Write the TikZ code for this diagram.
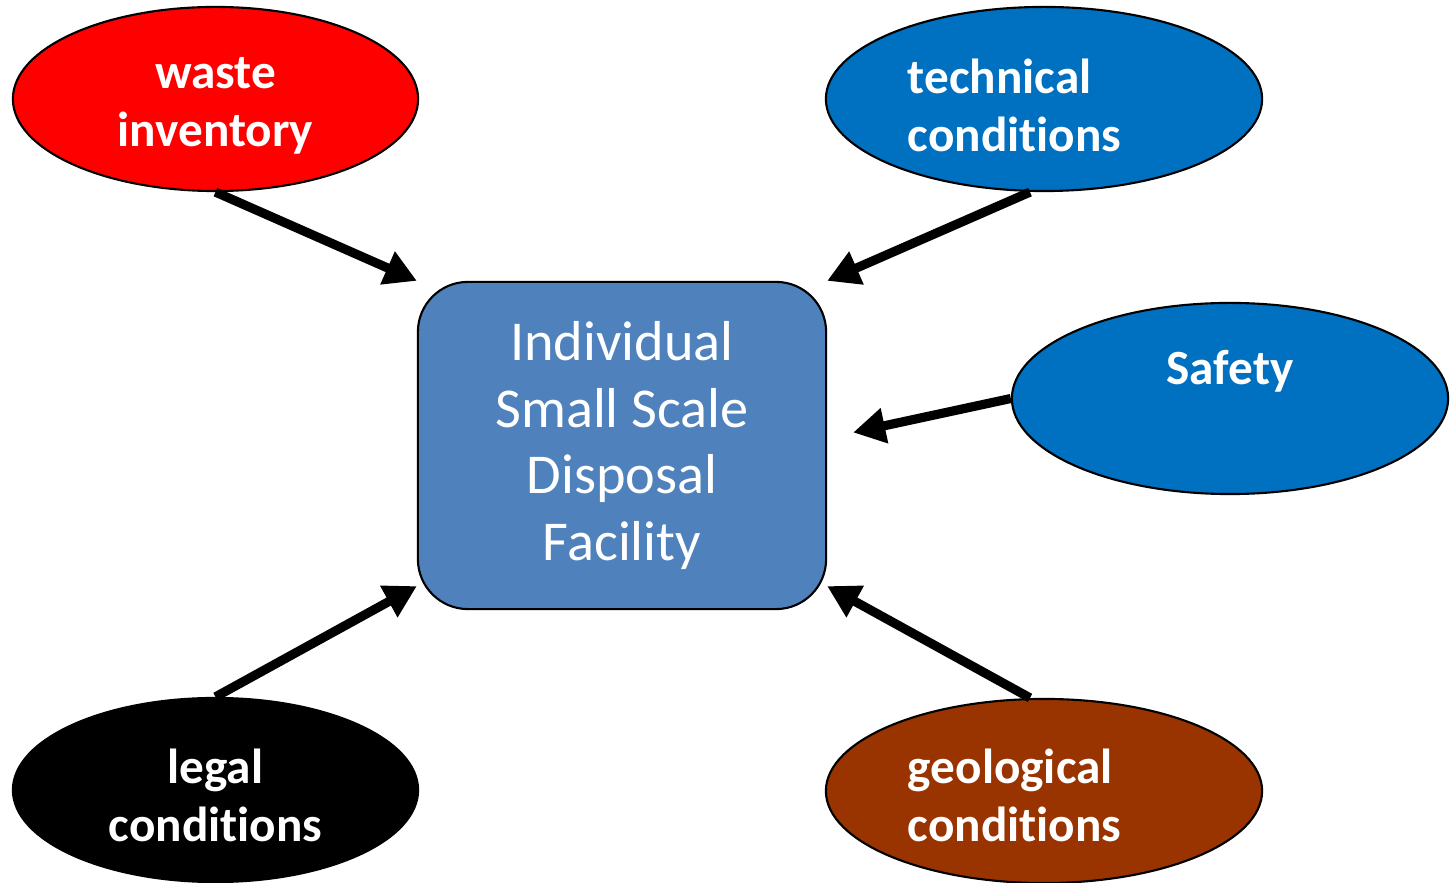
\documentclass[tikz,border=0pt]{standalone}
\usepackage{fontspec}
\setmainfont{Carlito}[Ligatures=NoCommon]
\usetikzlibrary{shapes.geometric,arrows.meta}

\definecolor{techblue}{HTML}{0070C0}
\definecolor{boxblue}{HTML}{4F81BD}
\definecolor{geobrown}{HTML}{993300}

% keeps the t and i apart
\newcommand{\cond}{condi\kern0pt tions}

\tikzset{
  oval/.style={ellipse, draw=black, line width=0.6pt, inner sep=0pt},
  ovaltext/.style={text=white, font=\fontsize{14}{16.5}\selectfont\bfseries},
  arr/.style={line width=2.6pt, -{Triangle[length=0.32cm,width=0.34cm]}}
}

\begin{document}
\begin{tikzpicture}[x=0.01cm,y=-0.01cm]
\useasboundingbox (0,0) rectangle (1455,883);

% the facility in the middle
\node[draw=black, fill=boxblue, rounded corners=0.5cm, line width=0.6pt,
  minimum width=4.08cm, minimum height=3.27cm, text=white, align=center,
  font=\fontsize{16}{19}\selectfont] (box) at (622,445.5)
  {Individual\\Small Scale\\Disposal\\Facility};

% the influences
\node[oval, fill=red, minimum width=4.05cm, minimum height=1.84cm,
  label={[ovaltext, align=center, yshift=-0.07cm]center:waste\\inventory}]
  (waste) at (215.5,99) {};
\node[oval, fill=techblue, minimum width=4.36cm, minimum height=1.84cm,
  label={[ovaltext, text width=2.72cm, align=left, yshift=-0.06cm]center:technical\\\cond}]
  (tech) at (1044,99) {};
\node[oval, fill=techblue, minimum width=4.36cm, minimum height=1.91cm,
  label={[ovaltext, yshift=0.27cm]center:Safety}]
  (safety) at (1230,398.5) {};
\node[oval, fill=black, minimum width=4.05cm, minimum height=1.84cm,
  label={[ovaltext, align=center, yshift=-0.05cm]center:legal\\\cond}]
  (legal) at (215.5,790) {};
\node[oval, fill=geobrown, minimum width=4.36cm, minimum height=1.84cm,
  label={[ovaltext, text width=2.72cm, align=left, yshift=-0.04cm]center:geological\\\cond}]
  (geo) at (1044,791) {};

\draw[arr] (waste.south) -- (box.north west);
\draw[arr] ([xshift=-0.14cm]tech.south) -- (box.north east);
\draw[arr] (safety.west) -- ([xshift=0.26cm,yshift=0.13cm]box.east);
\draw[arr] (legal.north) -- ([yshift=0.24cm]box.south west);
\draw[arr] ([xshift=-0.14cm]geo.north) -- ([yshift=0.24cm]box.south east);
\end{tikzpicture}
\end{document}
